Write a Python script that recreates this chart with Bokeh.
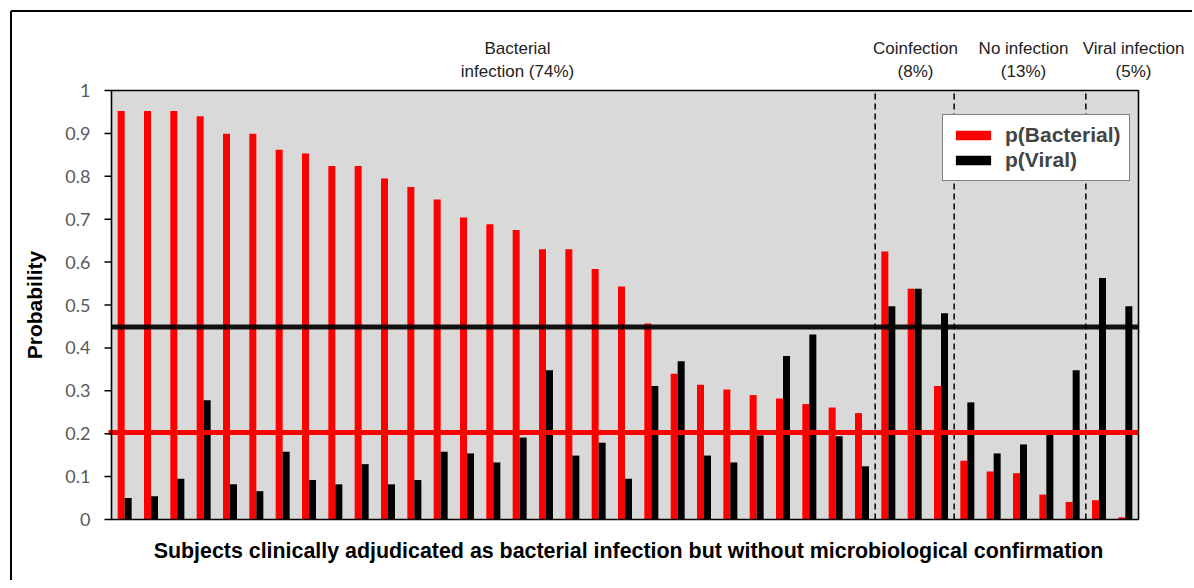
import math
from bokeh.plotting import figure
from bokeh.models import ColumnDataSource, Legend, LegendItem, Range1d
from bokeh.embed import file_html
from bokeh.resources import INLINE
from bokeh.core.properties import value

# ---------------- data ----------------
p_bacterial = [0.952, 0.952, 0.952, 0.940, 0.899, 0.899, 0.862, 0.853, 0.824, 0.824,
               0.795, 0.775, 0.746, 0.704, 0.688, 0.675, 0.630, 0.630, 0.584, 0.543,
               0.457, 0.340, 0.314, 0.303, 0.290, 0.282, 0.269, 0.261, 0.248,
               0.625, 0.538, 0.311,
               0.137, 0.112, 0.108, 0.058, 0.041,
               0.045, 0.005]
p_viral = [0.050, 0.054, 0.095, 0.278, 0.082, 0.066, 0.158, 0.092, 0.082, 0.129,
           0.082, 0.092, 0.158, 0.154, 0.133, 0.191, 0.348, 0.149, 0.179, 0.095,
           0.311, 0.369, 0.149, 0.133, 0.196, 0.381, 0.431, 0.194, 0.124,
           0.497, 0.538, 0.481,
           0.273, 0.154, 0.175, 0.200, 0.348,
           0.563, 0.497]
group_counts = [29, 3, 5, 2]
group_label_line1 = ["Bacterial", "Coinfection", "No infection", "Viral infection"]
group_label_line2 = ["infection (74%)", "(8%)", "(13%)", "(5%)"]
threshold_viral = 0.449
threshold_bacterial = 0.203
y_ticks = [0, 0.1, 0.2, 0.3, 0.4, 0.5, 0.6, 0.7, 0.8, 0.9, 1.0]
y_tick_labels = ["0", "0.1", "0.2", "0.3", "0.4", "0.5", "0.6", "0.7", "0.8", "0.9", "1"]
x_title = "Subjects clinically adjudicated as bacterial infection but without microbiological confirmation"
y_title = "Probability"
legend_labels = ["p(Bacterial)", "p(Viral)"]

# ---------------- layout (pixels) ----------------
W, H = 1194, 580
BOX_L, BOX_R, BOX_T, BOX_B = 111, 1138, 90, 519   # plotting box in page pixels
n = len(p_bacterial)
SX = (BOX_R - BOX_L) / n          # px per subject
SY = (BOX_B - BOX_T) / 1.0        # px per probability unit


def dx(px):   # page x pixel -> data x
    return (px - BOX_L) / SX


def dy(py):   # page y pixel -> data y
    return (BOX_B - py) / SY


BW = 7 / SX
idx = list(range(n))
src = ColumnDataSource(dict(
    xr=[i + 0.5 - BW / 2 for i in idx],
    xv=[i + 0.5 + BW / 2 for i in idx],
    pb=p_bacterial,
    pv=p_viral,
))

p = figure(width=W, height=H, output_backend="svg", toolbar_location=None,
           x_range=Range1d(dx(0), dx(W)), y_range=Range1d(dy(H), dy(0)),
           x_axis_location=None, y_axis_location=None,
           min_border_left=0, min_border_right=0, min_border_top=0, min_border_bottom=0)
p.styles = {"clip-path": "inset(0px 2px 0px 0px)"}
p.background_fill_color = "white"
p.border_fill_color = "white"
p.outline_line_color = None
p.xgrid.visible = False
p.ygrid.visible = False

# outer frame (left + top)
p.segment(x0=[dx(10.5), dx(10.5)], y0=[dy(10.5), dy(10.5)],
          x1=[dx(10.5), dx(W + 5)], y1=[dy(H + 5), dy(10.5)],
          line_color="black", line_width=2)

# plotting box
p.quad(left=[0], right=[n], bottom=[0], top=[1], fill_color="#D9D9D9",
       line_color=None)

r_b = p.vbar(x="xr", top="pb", bottom=0, width=BW, source=src,
             fill_color="#FF0000", line_color=None)
r_v = p.vbar(x="xv", top="pv", bottom=0, width=BW, source=src,
             fill_color="#000000", line_color=None)

# group separators
seps = []
cum = 0
for c in group_counts[:-1]:
    cum += c
    seps.append(cum)
p.segment(x0=seps, x1=seps, y0=[0] * len(seps), y1=[1] * len(seps),
          line_color="black", line_width=1.5, line_dash="6 4")

# thresholds
p.segment(x0=[0], x1=[n], y0=[threshold_viral], y1=[threshold_viral],
          line_color="black", line_width=5, line_alpha=0.92)
p.segment(x0=[dx(108)], x1=[n], y0=[threshold_bacterial], y1=[threshold_bacterial],
          line_color="#FF0000", line_width=5)

# box border
p.quad(left=[0], right=[n], bottom=[0], top=[1], fill_color=None,
       line_color="black", line_width=1.6)

# y axis ticks + labels
p.segment(x0=[dx(104)] * len(y_ticks), x1=[0] * len(y_ticks), y0=y_ticks, y1=y_ticks,
          line_color="black", line_width=1.5)
p.text(x=[dx(90)] * len(y_ticks), y=y_ticks, text=y_tick_labels,
       text_align="right", text_baseline="middle", text_font=value("Lato"),
       text_font_size="18px", text_color="#595959")

# axis titles
p.text(x=[dx(34)], y=[0.5], text=[y_title], angle=math.pi / 2,
       text_align="center", text_baseline="middle",
       text_font=value("Liberation Sans"), text_font_style="bold",
       text_font_size="21px", text_color="black")
p.text(x=[dx(628)], y=[dy(550)], text=[x_title],
       text_align="center", text_baseline="middle",
       text_font=value("Liberation Sans"), text_font_style="bold",
       text_font_size="21.4px", text_color="black")

# group labels
label_x = [dx(517), dx(915), dx(1023), dx(1133)]
p.text(x=label_x, y=[dy(48)] * 4, text=group_label_line1,
       text_align="center", text_baseline="middle",
       text_font=value("Liberation Sans"), text_font_size="17px", text_color="#222222")
p.text(x=label_x, y=[dy(71)] * 4, text=group_label_line2,
       text_align="center", text_baseline="middle",
       text_font=value("Liberation Sans"), text_font_size="17px", text_color="#222222")

legend = Legend(items=[LegendItem(label=legend_labels[0], renderers=[r_b]),
                       LegendItem(label=legend_labels[1], renderers=[r_v])],
                location=(942, H - 181))
legend.label_text_font = "Liberation Sans"
legend.label_text_font_style = "bold"
legend.label_text_font_size = "21px"
legend.glyph_width = 44
legend.glyph_height = 12
legend.label_standoff = 10
legend.padding = 8
legend.spacing = 1
legend.margin = 0
legend.border_line_color = "black"
legend.border_line_width = 1.5
legend.background_fill_color = "white"
legend.background_fill_alpha = 1
p.add_layout(legend)

open("out.html", "w").write(file_html(p, INLINE))
